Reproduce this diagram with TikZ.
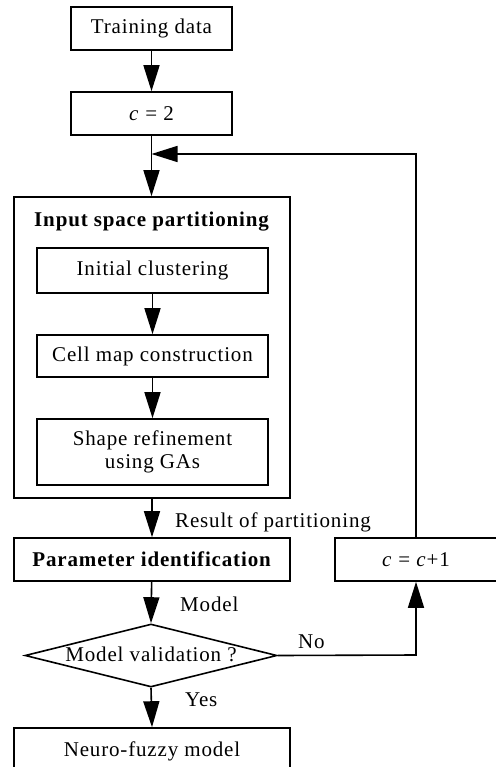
\documentclass[tikz,border=0pt]{standalone}
\usepackage{fontspec}
\setmainfont[LetterSpace=4]{Liberation Serif}
\usetikzlibrary{arrows.meta,shapes.geometric}
\begin{document}
\begin{tikzpicture}[x=1pt,y=-1pt,
  every node/.style={font=\fontsize{21}{23}\selectfont},
  box/.style={draw,line width=1.6pt,inner sep=0pt,align=center},
  arr/.style={line width=1.6pt,-{Triangle[length=26pt,width=16pt]}},
  lbl/.style={inner sep=0pt,anchor=west}]
\useasboundingbox (0,0) rectangle (495,767);
% main column
\node[box,minimum width=161pt,minimum height=43pt] (train) at (151.5,28.5) {Training data};
\node[box,minimum width=161pt,minimum height=43pt] (c2) at (151.5,113.5) {\textit{c} = 2};
\coordinate (junc) at (151.5,154);
\node[box,minimum width=276pt,minimum height=301pt] (big) at (152,347.5) {};
\node[inner sep=0pt] (title) at (152,222) {\textbf{Input space partitioning}};
\node[box,minimum width=231pt,minimum height=45pt] (init) at (152.5,270.5) {Initial clustering};
\node[box,minimum width=231pt,minimum height=42pt] (cell) at (152.5,356) {Cell map construction};
\node[box,minimum width=231pt,minimum height=66pt] (shape) at (152.5,452) {Shape refinement\\using GAs};
\node[box,minimum width=276pt,minimum height=43pt] (param) at (152,559.5) {\textbf{Parameter identification}};
\node[draw,line width=1.6pt,diamond,aspect=4,inner sep=0pt,minimum width=252pt,minimum height=63pt] (val) at (151,655.5) {};
\node[inner sep=0pt] (valtxt) at (151,654) {Model validation ?};
\node[box,minimum width=276pt,minimum height=46pt] (nf) at (152,751) {Neuro-fuzzy model};
% right column
\node[box,minimum width=162pt,minimum height=43pt] (inc) at (416,559.5) {\textit{c} = \textit{c}+1};
\coordinate (corner1) at (416,154);
\coordinate (corner2) at (416,655);
% connectors
\draw[arr] (train) -- (c2);
\draw[arr] (c2) -- (big.north -| c2);
\draw[arr] (inc.north) -- (corner1) -- (junc);
\draw[arr] (init) -- (cell);
\draw[arr] (cell) -- (shape);
\draw[arr] (big.south) -- (param.north);
\draw[arr] (param) -- (val.north);
\draw[arr] (val.south) -- (nf.north);
\draw[arr] (val.east) -- (corner2) -- (inc.south);
% labels
\node[lbl] (l1) at (175,522) {Result of partitioning};
\node[lbl] (l2) at (180,604) {Model};
\node[lbl] (l3) at (185,700) {Yes};
\node[lbl] (l4) at (298,642) {No};
\end{tikzpicture}
\end{document}
